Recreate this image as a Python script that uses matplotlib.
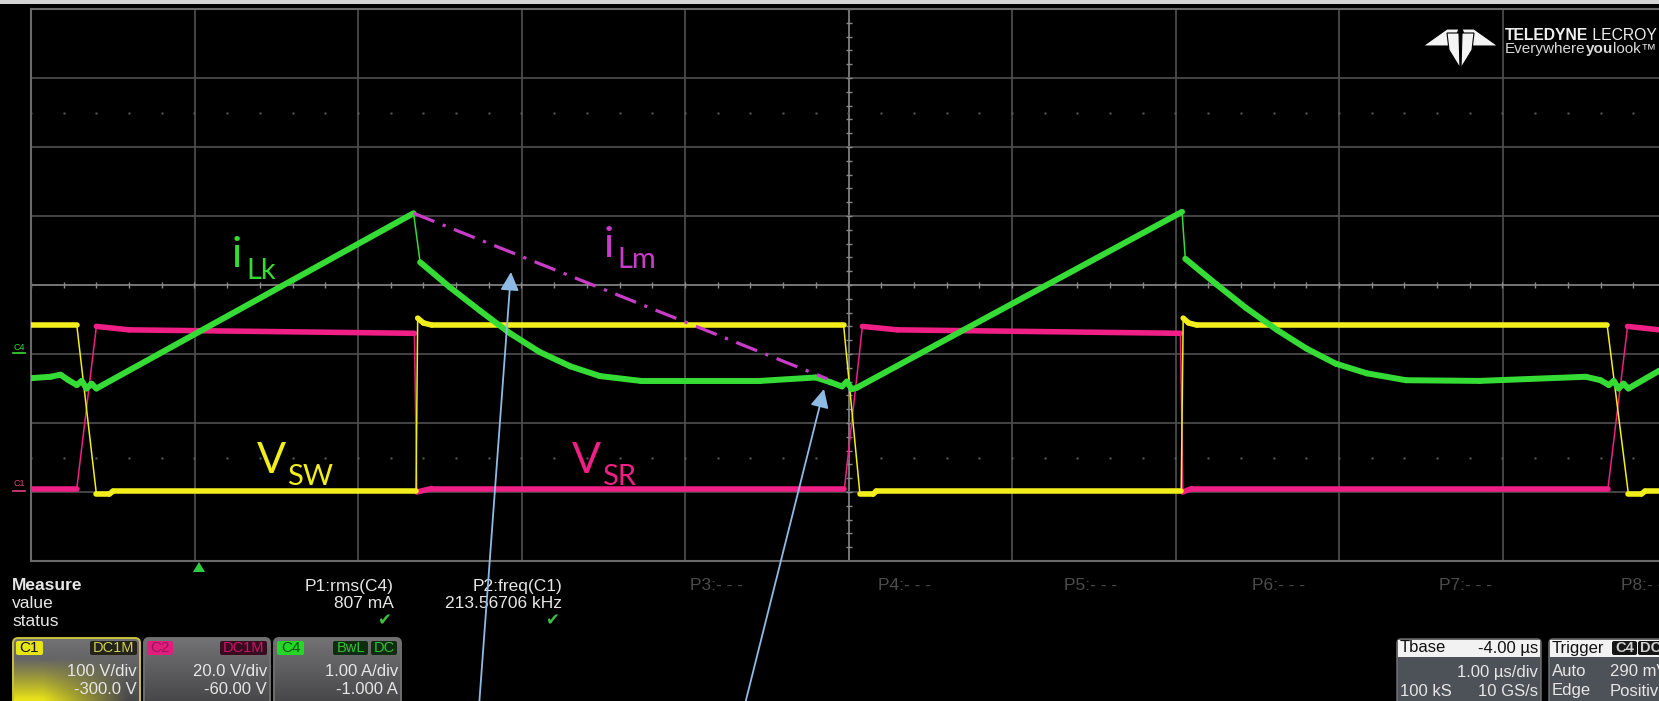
import numpy as np
import matplotlib.pyplot as plt
from matplotlib.collections import LineCollection
from matplotlib.patches import FancyBboxPatch, Polygon, Rectangle


W, H, DPI = 1659, 701, 100

# graticule placement on screen (pixels)
GRID_X0, GRID_Y0 = 31, 9
DIV_W, DIV_H = 163.5, 69.0
N_XDIV, N_YDIV = 10, 8

# timebase: 1 us/div, trigger one division in from the left
T_LEFT = -1.0
US_PER_DIV = 1.0

# vertical settings: (units per div, offset)
C1_SCALE, C1_OFFSET = 100.0, -300.0   # V
C2_SCALE, C2_OFFSET = 20.0, -60.0     # V
C4_SCALE, C4_OFFSET = 1.0, -1.0       # A

# C1 - switch node voltage V_SW (V)
c1_t = [-1.00, -0.72, -0.60, -0.52, -0.50, 1.355, 1.365, 1.40, 1.45,
        3.97, 4.07, 4.15, 4.17, 6.035, 6.047, 6.08, 6.13,
        8.64, 8.77, 8.85, 8.87, 8.96]
c1_v = [242, 242, -3, -3, 1, 1, 252, 245, 242,
        242, -3, -3, 1, 1, 252, 245, 242,
        242, -3, -3, 1, 1]

# C2 - synchronous rectifier voltage V_SR (V)
c2_t = [-1.00, -0.72, -0.60, -0.40, 1.345, 1.36, 1.45,
        3.975, 4.085, 4.30, 6.03, 6.045, 6.10,
        8.645, 8.765, 8.96]
c2_v = [1, 1, 48, 47, 46, 0, 1,
        1, 48, 47, 46, 0, 1,
        1, 48, 47]

# C4 - leakage inductor current i_Lk (A)
c4_t = [-1.00, -0.88, -0.82, -0.77, -0.72, -0.69, -0.66, -0.63, -0.60,
        1.34, 1.38, 1.56, 1.75, 1.93, 2.11, 2.30, 2.48, 2.73, 3.46,
        3.80, 3.89, 3.96, 3.99, 4.02, 4.05,
        6.04, 6.06, 6.25, 6.43, 6.62, 6.80, 6.98, 7.17, 7.41, 7.86,
        8.51, 8.60, 8.65, 8.68, 8.71, 8.74, 8.77, 8.96]
c4_i = [-0.35, -0.33, -0.30, -0.38, -0.45, -0.39, -0.50, -0.43, -0.50,
        2.04, 1.33, 0.97, 0.62, 0.30, 0.03, -0.18, -0.32, -0.39, -0.39,
        -0.34, -0.41, -0.47, -0.40, -0.51, -0.49,
        2.06, 1.38, 1.01, 0.67, 0.35, 0.08, -0.14, -0.28, -0.38, -0.39,
        -0.33, -0.38, -0.45, -0.39, -0.50, -0.43, -0.50, -0.24]

# magnetizing current i_Lm over the off interval (A)
ilm_t = [1.34, 3.87]
ilm_i = [2.04, -0.36]

# measurement readouts
measure_names = ["P1:rms(C4)", "P2:freq(C1)"]
measure_values = ["807 mA", "213.56706 kHz"]
empty_params = ["P3", "P4", "P5", "P6", "P7", "P8"]

YELLOW = "#f2ee1c"
PINK = "#f01f86"
GREEN = "#36dc36"
VIOLET = "#c83cc8"
ARROW = "#8dbbe6"
GRID = "#505050"
GRID_CENTER = "#8a8a8a"
TEXT = "#e6e6e6"
UI_FONT = "Liberation Sans"
LABEL_FONT = "Lato"


def to_div(values, scale, offset):
    return (np.asarray(values, float) + offset) / scale + N_YDIV / 2


def draw_trace(ax, t, div, color, lw=4.0, z=3):
    t = np.asarray(t, float)
    div = np.asarray(div, float)
    pts = np.column_stack([t, div])
    segs = np.stack([pts[:-1], pts[1:]], axis=1)
    # fast edges are only a few samples wide, so they come out thin
    dx_px = np.abs(np.diff(t)) / US_PER_DIV * DIV_W
    dy_px = np.abs(np.diff(div)) * DIV_H
    steep = dy_px > 4 * dx_px
    widths = np.where(steep, 1.1, lw)
    lc = LineCollection(segs, colors=color, linewidths=widths,
                        capstyle="round", joinstyle="round", zorder=z)
    ax.add_collection(lc)


def run_text(ov, x, y, pieces, size, color, renderer, **kw):
    # pieces of (text, weight) set one after another on a line
    for s, weight in pieces:
        t = ov.text(x, y, s, fontsize=size, color=color, fontweight=weight,
                    va="center", ha="left", family=UI_FONT, **kw)
        x += t.get_window_extent(renderer).width


def channel_box(ov, x0, x1, y0, y1, edge, glow=None):
    box = FancyBboxPatch((x0, y0), x1 - x0, y1 - y0,
                         boxstyle="round,pad=0,rounding_size=5",
                         facecolor="none", edgecolor=edge, lw=1.4, zorder=6)
    ov.add_patch(box)
    ny, nx = 60, 120
    yy, xx = np.mgrid[0:1:ny * 1j, 0:1:nx * 1j]
    shade = 0.45 - 0.18 * yy
    img = np.dstack([shade, shade, shade * 1.02])
    if glow is not None:
        w = np.clip(1.35 - xx * 1.5, 0, 1) * np.clip((yy - 0.3) / 0.6, 0, 1)
        w = w[..., None]
        img = img * (1 - w) + np.array(glow)[None, None, :] * w
    im = ov.imshow(np.clip(img, 0, 1), extent=(x0, x1, y1, y0), origin="upper",
                   aspect="auto", interpolation="bilinear", zorder=5)
    im.set_clip_path(box)


def badge(ov, x, y, w, h, text, bg, fg, size=10.5, bold=False):
    ov.add_patch(FancyBboxPatch((x, y), w, h, boxstyle="round,pad=0,rounding_size=2",
                                facecolor=bg, edgecolor="none", zorder=7))
    ov.text(x + w / 2, y + h / 2 + 0.5, text, fontsize=size, color=fg,
            ha="center", va="center", family=UI_FONT,
            fontweight="bold" if bold else "normal", zorder=8)


def main():
    fig = plt.figure(figsize=(W / DPI, H / DPI), dpi=DPI, facecolor="black")
    ax = fig.add_axes([GRID_X0 / W,
                       1 - (GRID_Y0 + N_YDIV * DIV_H) / H,
                       N_XDIV * DIV_W / W,
                       N_YDIV * DIV_H / H])
    ax.set_facecolor("black")
    ax.set_xlim(T_LEFT, T_LEFT + N_XDIV * US_PER_DIV)
    ax.set_ylim(0, N_YDIV)
    ax.set_xticks([])
    ax.set_yticks([])
    for sp in ax.spines.values():
        sp.set_color("#6a6a6a")
        sp.set_linewidth(1.5)

    # graticule
    x_mid = T_LEFT + N_XDIV / 2 * US_PER_DIV
    y_mid = N_YDIV / 2
    for k in range(1, N_XDIV):
        x = T_LEFT + k * US_PER_DIV
        ax.axvline(x, color=GRID_CENTER if x == x_mid else GRID, lw=1.2, zorder=1)
    for k in range(1, N_YDIV):
        ax.axhline(k, color=GRID_CENTER if k == y_mid else GRID, lw=1.2, zorder=1)
    sub_x = np.arange(T_LEFT, T_LEFT + N_XDIV + 1e-9, 0.2 * US_PER_DIV)
    sub_y = np.arange(0, N_YDIV + 1e-9, 0.2)
    tick_h = 3 / DIV_H
    tick_w = 3 / DIV_W
    ax.vlines(sub_x, y_mid - tick_h, y_mid + tick_h, color=GRID_CENTER, lw=1.0, zorder=1)
    ax.hlines(sub_y, x_mid - tick_w, x_mid + tick_w, color=GRID_CENTER, lw=1.0, zorder=1)
    for row in (1.5, 6.5):
        ax.plot(sub_x, np.full_like(sub_x, row), "s", ms=1.8, color="#5e5e5e",
                mec="none", zorder=1)

    # waveforms
    draw_trace(ax, c2_t, to_div(c2_v, C2_SCALE, C2_OFFSET), PINK, z=3)
    draw_trace(ax, c1_t, to_div(c1_v, C1_SCALE, C1_OFFSET), YELLOW, z=4)
    draw_trace(ax, c4_t, to_div(c4_i, C4_SCALE, C4_OFFSET), GREEN, lw=4.3, z=5)
    ax.plot(ilm_t, to_div(ilm_i, C4_SCALE, C4_OFFSET), color=VIOLET, lw=2.3,
            dashes=(7, 2.8, 1, 2.8), zorder=6)

    # overlay in screen pixels for the labels and the readout panels
    ov = fig.add_axes([0, 0, 1, 1], facecolor="none")
    ov.set_xlim(0, W)
    ov.set_ylim(H, 0)
    ov.axis("off")
    renderer = fig.canvas.get_renderer()

    ov.add_patch(Rectangle((0, 0), W, 4, facecolor="#d4d4d4", edgecolor="none", zorder=2))

    # trace names
    def named(x, y, main_txt, sub_txt, xs, ys, color, big=31, small=21):
        ov.text(x, y, main_txt, fontsize=big, color=color, family=LABEL_FONT,
                va="baseline", ha="left", zorder=9)
        ov.text(xs, ys, sub_txt, fontsize=small, color=color, family=LABEL_FONT,
                va="baseline", ha="left", zorder=9)

    named(232, 267, "i", "Lk", 246, 279, GREEN)
    named(604, 257, "i", "Lm", 617, 268, VIOLET)
    named(257, 473, "V", "SW", 287, 485, YELLOW)
    named(572, 473, "V", "SR", 602, 485, PINK)

    # channel ground markers at the left edge
    ov.text(13, 347, "C4", fontsize=6.5, color=GREEN, family=UI_FONT, va="center")
    ov.plot([13, 25], [353, 353], color=GREEN, lw=1.2)
    ov.text(13, 484, "C1", fontsize=6.5, color="#e0407f", family=UI_FONT, va="center")
    ov.plot([13, 25], [491, 491], color="#e0407f", lw=1.2)

    # trigger position marker
    ov.add_patch(Polygon([(193, 572), (205, 572), (199, 562)], closed=True,
                         facecolor="#2ecc40", edgecolor="none", zorder=4))

    # pointer arrows
    for tip, tail in [((511, 272), (478, 720)), ((824, 389), (741, 720))]:
        ov.annotate("", xy=tip, xytext=tail, zorder=12,
                    arrowprops=dict(arrowstyle="-|>,head_length=0.7,head_width=0.35",
                                    color=ARROW, lw=1.3, mutation_scale=16,
                                    shrinkA=0, shrinkB=0))

    # measurement table
    ov.text(12, 586, "Measure", fontsize=12.5, fontweight="bold", color=TEXT,
            family=UI_FONT, va="center")
    ov.text(12, 603, "value", fontsize=12.5, color=TEXT, family=UI_FONT, va="center")
    ov.text(12, 621, "status", fontsize=12.5, color=TEXT, family=UI_FONT, va="center")
    for right, name, val in zip([394, 562], measure_names, measure_values):
        ov.text(right, 586, name, fontsize=12.5, color=TEXT, family=UI_FONT,
                va="center", ha="right")
        ov.text(right, 603, val, fontsize=12.5, color=TEXT, family=UI_FONT,
                va="center", ha="right")
        ov.text(right - 10, 620, "\u2714", fontsize=12, color="#3cbf3c",
                family="DejaVu Sans", va="center", ha="center")
    for x, p in zip([690, 878, 1064, 1252, 1439, 1621], empty_params):
        ov.text(x, 586, p + ":- - -", fontsize=12.5, color="#4c4c4c",
                family=UI_FONT, va="center")

    # channel descriptor boxes
    y_top, y_bot = 638, 706
    channel_box(ov, 13, 140, y_top, y_bot, "#c9c23a", glow=(0.9, 0.88, 0.1))
    channel_box(ov, 144, 270, y_top, y_bot, "#6f6f6f")
    channel_box(ov, 274, 401, y_top, y_bot, "#6f6f6f")
    badge(ov, 16, 641, 27, 14, "C1", "#e6e614", "#111111", size=11)
    badge(ov, 90, 641, 47, 14, "DC1M", "#23231a", "#cfcf55", size=10.5)
    badge(ov, 147, 641, 26, 14, "C2", "#e01f7c", "#a3105a", size=11)
    badge(ov, 220, 641, 47, 14, "DC1M", "#3a0b1e", "#c8186a", size=10.5)
    badge(ov, 277, 641, 27, 14, "C4", "#26d626", "#0c560c", size=11)
    badge(ov, 333, 641, 35, 14, "BwL", "#0e2c0e", "#38c038", size=10.5)
    badge(ov, 371, 641, 26, 14, "DC", "#0e2c0e", "#38c038", size=10.5)
    for right, scale, offset in [(137, "100 V/div", "-300.0 V"),
                                 (267, "20.0 V/div", "-60.00 V"),
                                 (398, "1.00 A/div", "-1.000 A")]:
        ov.text(right, 671, scale, fontsize=12, color=TEXT, family=UI_FONT,
                va="center", ha="right", zorder=8)
        ov.text(right, 690, offset, fontsize=12, color=TEXT, family=UI_FONT,
                va="center", ha="right", zorder=8)

    # timebase and trigger boxes
    for x0, x1 in [(1397, 1541), (1549, 1720)]:
        ov.add_patch(FancyBboxPatch((x0, 639), x1 - x0, 70,
                                    boxstyle="round,pad=0,rounding_size=4",
                                    facecolor="#4d5158", edgecolor="#777777",
                                    lw=1.0, zorder=5))
        ov.add_patch(Rectangle((x0 + 1, 640), x1 - x0 - 2, 17,
                               facecolor="#f2f2f2", edgecolor="none", zorder=6))
    ov.text(1400, 648, "Tbase", fontsize=12, color="#111111", family=UI_FONT,
            va="center", zorder=8)
    ov.text(1538, 648, "-4.00 \u00b5s", fontsize=12, color="#111111",
            family=UI_FONT, va="center", ha="right", zorder=8)
    ov.text(1538, 672, "1.00 \u00b5s/div", fontsize=12, color=TEXT,
            family=UI_FONT, va="center", ha="right", zorder=8)
    ov.text(1400, 691, "100 kS", fontsize=12, color=TEXT, family=UI_FONT,
            va="center", zorder=8)
    ov.text(1538, 691, "10 GS/s", fontsize=12, color=TEXT, family=UI_FONT,
            va="center", ha="right", zorder=8)
    ov.text(1552, 648, "Trigger", fontsize=12, color="#111111", family=UI_FONT,
            va="center", zorder=8)
    badge(ov, 1612, 641, 25, 14, "C4", "#151515", "#d0d0d0", size=10.5, bold=True)
    badge(ov, 1638, 641, 26, 14, "DC", "#151515", "#d0d0d0", size=10.5, bold=True)
    ov.text(1552, 672, "Auto", fontsize=12, color=TEXT, family=UI_FONT,
            va="center", zorder=8)
    ov.text(1610, 672, "290 mV", fontsize=12, color=TEXT, family=UI_FONT,
            va="center", zorder=8)
    ov.text(1552, 691, "Edge", fontsize=12, color=TEXT, family=UI_FONT,
            va="center", zorder=8)
    ov.text(1610, 691, "Positive", fontsize=12, color=TEXT, family=UI_FONT,
            va="center", zorder=8)

    # Teledyne LeCroy mark
    logo = [
        [(1423, 46), (1447, 29), (1459, 29), (1452, 46)],
        [(1498, 46), (1474, 29), (1462, 29), (1469, 46)],
        [(1447, 33), (1459, 33), (1460, 68), (1449, 50)],
        [(1462, 33), (1474, 33), (1472, 50), (1461, 68)],
    ]
    for pts in logo:
        ov.add_patch(Polygon(pts, closed=True, facecolor="#f4f4f4",
                             edgecolor="black", lw=0.8, zorder=4))
    run_text(ov, 1505, 35, [("TELEDYNE", "bold"), (" LECROY", "normal")],
             11.3, "#f0f0f0", renderer, zorder=4)
    run_text(ov, 1505, 49, [("Everywhere", "normal"), ("you", "bold"),
                            ("look", "normal"), ("\u2122", "normal")],
             11, "#d8d8d8", renderer, zorder=4)

    fig.savefig("out.png", dpi=DPI, facecolor="black")
    plt.close(fig)


if __name__ == "__main__":
    main()
